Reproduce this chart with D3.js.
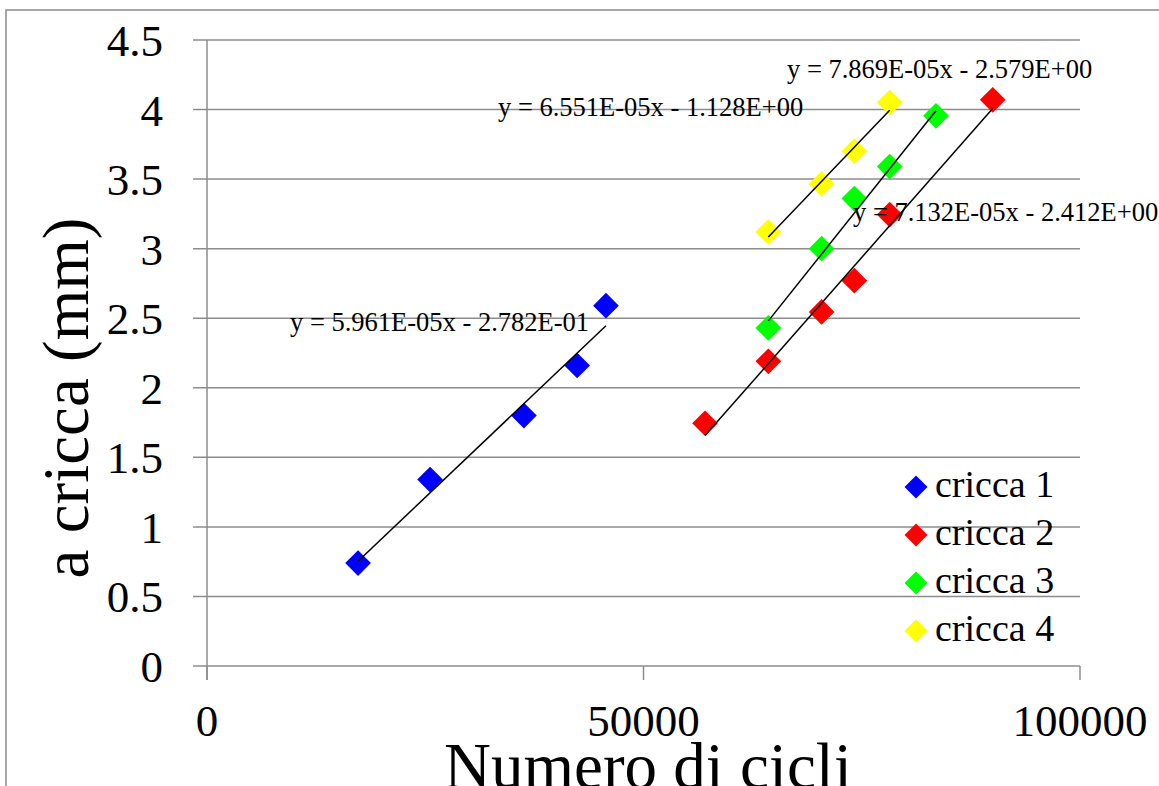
<!DOCTYPE html>
<html>
<head>
<meta charset="utf-8">
<script src="https://cdn.jsdelivr.net/npm/d3@7"></script>
<style>
  html, body { margin: 0; padding: 0; background: #fff; }
  svg { display: block; font-family: "Liberation Serif", "Times New Roman", serif; }
</style>
</head>
<body>
<svg id="chart" width="1159" height="786"></svg>
<script>
// Crack length (mm) against number of cycles, four cracks
const seriesNames = ["cricca 1", "cricca 2", "cricca 3", "cricca 4"];
const seriesColors = ["#0000ff", "#ff0000", "#00ff00", "#ffff00"];

const cycles1 = [17300, 25550, 36300, 42400, 45700];
const crack1  = [0.74, 1.34, 1.80, 2.16, 2.59];

const cycles2 = [57050, 64300, 70400, 74150, 78200, 90000];
const crack2  = [1.745, 2.19, 2.545, 2.77, 3.245, 4.07];

const cycles3 = [64300, 70400, 74150, 78200, 83500];
const crack3  = [2.43, 3.00, 3.36, 3.59, 3.955];

const cycles4 = [64300, 70400, 74150, 78200];
const crack4  = [3.12, 3.465, 3.70, 4.05];

// Linear trend lines y = a*x + b
const trendSlopes     = [5.961e-5, 7.132e-5, 7.869e-5, 6.551e-5];
const trendIntercepts = [-2.782e-1, -2.412, -2.579, -1.128];

const xTicks = [0, 50000, 100000];
const yTicks = [0, 0.5, 1, 1.5, 2, 2.5, 3, 3.5, 4, 4.5];

const xTitle = "Numero di cicli";
const yTitle = "a cricca (mm)";

const cyclesAll = [cycles1, cycles2, cycles3, cycles4];
const crackAll  = [crack1, crack2, crack3, crack4];

// Equation label placement (left edge, baseline)
const eqPos = [[290, 331], [853, 221], [787, 78], [498, 116]];

const svg = d3.select("#chart");
const grid = "#8c8c8c";

const x = d3.scaleLinear().domain([0, 100000]).range([207, 1080]);
const y = d3.scaleLinear().domain([0, 4.5]).range([666, 40]);

// outer frame
svg.append("rect")
  .attr("x", 6).attr("y", 10).attr("width", 1300).attr("height", 900)
  .attr("fill", "none").attr("stroke", grid).attr("stroke-width", 1.5);

// horizontal gridlines
svg.append("g").selectAll("line").data(yTicks).join("line")
  .attr("x1", 193).attr("x2", x(100000))
  .attr("y1", d => y(d)).attr("y2", d => y(d))
  .attr("stroke", grid).attr("stroke-width", 1.5);

// vertical axis line
svg.append("line")
  .attr("x1", x(0)).attr("x2", x(0)).attr("y1", y(4.5)).attr("y2", y(0) + 14)
  .attr("stroke", grid).attr("stroke-width", 1.5);

// x tick marks
svg.append("g").selectAll("line").data(xTicks).join("line")
  .attr("x1", d => x(d)).attr("x2", d => x(d))
  .attr("y1", y(0)).attr("y2", y(0) + 14)
  .attr("stroke", grid).attr("stroke-width", 1.5);

// y tick labels
svg.append("g").selectAll("text").data(yTicks).join("text")
  .attr("x", 163).attr("y", d => y(d) + 16)
  .attr("text-anchor", "end").attr("font-size", 45)
  .text(d => d);

// x tick labels
svg.append("g").selectAll("text").data(xTicks).join("text")
  .attr("x", d => x(d)).attr("y", 736)
  .attr("text-anchor", "middle").attr("font-size", 45)
  .text(d => d);

// axis titles
svg.append("text")
  .attr("x", 648).attr("y", 788)
  .attr("text-anchor", "middle").attr("font-size", 65)
  .text(xTitle);

svg.append("text")
  .attr("transform", "translate(88,398) rotate(-90)")
  .attr("text-anchor", "middle").attr("font-size", 65)
  .text(yTitle);

// markers
const diamond = d3.symbol().type(d3.symbolSquare).size(330);
cyclesAll.forEach((xs, i) => {
  const pts = xs.map((c, j) => [c, crackAll[i][j]]);
  svg.append("g").selectAll("path").data(pts).join("path")
    .attr("d", diamond)
    .attr("transform", d => `translate(${x(d[0])},${y(d[1])}) rotate(45)`)
    .attr("fill", seriesColors[i]);
});

// trend lines over the range of each series
cyclesAll.forEach((xs, i) => {
  const x0 = d3.min(xs), x1 = d3.max(xs);
  const f = v => trendSlopes[i] * v + trendIntercepts[i];
  svg.append("line")
    .attr("x1", x(x0)).attr("y1", y(f(x0)))
    .attr("x2", x(x1)).attr("y2", y(f(x1)))
    .attr("stroke", "#000").attr("stroke-width", 1.5);
});

// equation labels
function sci(v) {
  const [m, e] = Math.abs(v).toExponential(3).split("e");
  const n = parseInt(e, 10);
  return m + "E" + (n < 0 ? "-" : "+") + String(Math.abs(n)).padStart(2, "0");
}
trendSlopes.forEach((a, i) => {
  const b = trendIntercepts[i];
  const label = `y = ${sci(a)}x ${b < 0 ? "-" : "+"} ${sci(b)}`;
  svg.append("text")
    .attr("x", eqPos[i][0]).attr("y", eqPos[i][1])
    .attr("font-size", 26.5)
    .text(label);
});

// legend
const legend = svg.append("g").attr("transform", "translate(916,487)");
seriesNames.forEach((name, i) => {
  const row = legend.append("g").attr("transform", `translate(0,${i * 48})`);
  row.append("path")
    .attr("d", d3.symbol().type(d3.symbolSquare).size(265))
    .attr("transform", "rotate(45)")
    .attr("fill", seriesColors[i]);
  row.append("text")
    .attr("x", 19).attr("y", 10)
    .attr("font-size", 38)
    .text(name);
});
</script>
</body>
</html>
